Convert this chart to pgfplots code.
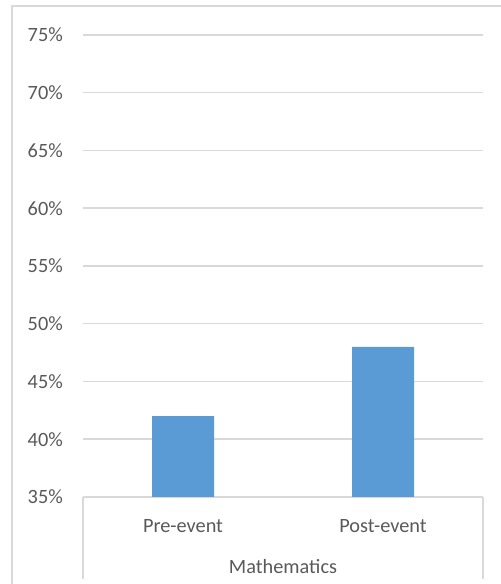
\documentclass[border=0pt]{standalone}
\usepackage{pgfplots}
\pgfplotsset{compat=1.18}
\usepackage{fontspec}
\setmainfont{Carlito}

\definecolor{barblue}{HTML}{5B9BD5}
\definecolor{txtgray}{HTML}{595959}
\definecolor{linegray}{HTML}{D9D9D9}

\begin{document}
\begin{tikzpicture}[x=1bp,y=1bp]
% page is 501 x 584 px, 1px = 1bp, y measured from the bottom
\path[use as bounding box] (0,0) rectangle (501,584);
\clip (0,0) rectangle (501,584);

% chart frame, runs off the right and bottom edges
\draw[linegray, line width=1.5bp] (12,-10) -- (12,578) -- (520,578);

\begin{axis}[
  at={(83bp,87bp)}, anchor=south west,
  scale only axis,
  width=400bp, height=462bp,
  font=\fontsize{20.3bp}{24bp}\selectfont,
  ybar, bar width=0.31, bar shift=0pt,
  xmin=-0.5, xmax=1.5,
  ymin=35, ymax=75,
  xtick={0,1},
  xticklabels={Pre-event,Post-event},
  ytick={35,40,...,75},
  yticklabels={35\%,40\%,45\%,50\%,55\%,60\%,65\%,70\%,75\%},
  major tick length=0pt,
  axis line style={draw=none},
  ymajorgrids,
  grid style={linegray, line width=1.5bp},
  tick label style={txtgray, inner sep=0pt},
  yticklabel style={anchor=east, xshift=-20bp},
  xticklabel style={anchor=base, yshift=-35bp},
  xlabel={Mathematics},
  xlabel style={txtgray, inner sep=0pt, at={(axis description cs:0.5,0)}, anchor=base, yshift=-76bp},
]
\addplot[fill=barblue, draw=none] coordinates {(0,42) (1,48)};
\end{axis}

% category box below the plot
\draw[linegray, line width=1.5bp] (83,87) -- (83,5);
\draw[linegray, line width=1.5bp] (483,87) -- (483,5);
\end{tikzpicture}
\end{document}
